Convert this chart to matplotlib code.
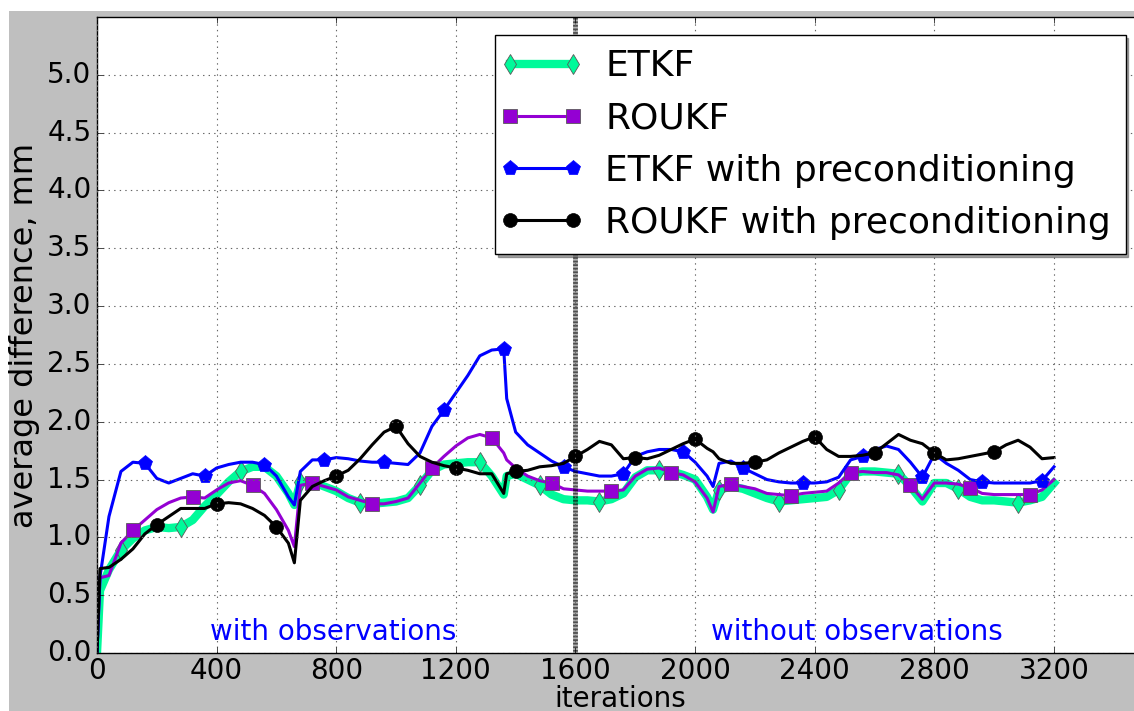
import numpy as np
import matplotlib
matplotlib.use('Agg')
import matplotlib.pyplot as plt
from matplotlib.patches import Rectangle
from matplotlib.lines import Line2D
from matplotlib.legend_handler import HandlerLine2D

# iterations: every 40 plus a few points at the sharp dips
iters = sorted(list(range(0, 3201, 40)) + [10, 660, 1370, 2060])

etkf = [0.00, 0.54, 0.72, 0.89, 0.99, 1.06, 1.09, 1.08, 1.09, 1.15, 1.27,
        1.37, 1.48, 1.57, 1.61, 1.61, 1.53, 1.38, 1.28, 1.48, 1.48, 1.44,
        1.40, 1.34, 1.30, 1.29, 1.30, 1.31, 1.34, 1.45, 1.58, 1.63, 1.64,
        1.65, 1.65, 1.53, 1.37, 1.53, 1.55, 1.50, 1.45, 1.37, 1.33, 1.32,
        1.32, 1.31, 1.33, 1.38, 1.52, 1.58, 1.58, 1.57, 1.54, 1.50, 1.35,
        1.24, 1.41, 1.44, 1.42, 1.38, 1.34, 1.31, 1.32, 1.33, 1.34, 1.35,
        1.41, 1.55, 1.57, 1.57, 1.56, 1.55, 1.44, 1.31, 1.47, 1.47, 1.42,
        1.35, 1.32, 1.32, 1.31, 1.30, 1.32, 1.35, 1.47]

roukf = [0.00, 0.65, 0.67, 0.95, 1.06, 1.15, 1.24, 1.30, 1.34, 1.35, 1.34,
         1.41, 1.47, 1.49, 1.45, 1.38, 1.24, 1.06, 0.92, 1.45, 1.47, 1.44,
         1.41, 1.35, 1.32, 1.29, 1.29, 1.31, 1.34, 1.47, 1.60, 1.70, 1.79,
         1.86, 1.89, 1.86, 1.73, 1.67, 1.60, 1.53, 1.49, 1.47, 1.42, 1.41,
         1.40, 1.40, 1.40, 1.41, 1.53, 1.59, 1.60, 1.56, 1.54, 1.48, 1.34,
         1.22, 1.44, 1.46, 1.44, 1.42, 1.38, 1.37, 1.36, 1.38, 1.39, 1.40,
         1.47, 1.56, 1.57, 1.56, 1.56, 1.54, 1.45, 1.33, 1.47, 1.47, 1.46,
         1.43, 1.38, 1.37, 1.37, 1.37, 1.37, 1.41, 1.50]

etkf_pre = [0.00, 0.66, 1.18, 1.57, 1.65, 1.64, 1.51, 1.47, 1.51, 1.55, 1.53,
            1.60, 1.63, 1.65, 1.65, 1.63, 1.53, 1.35, 1.28, 1.57, 1.67, 1.67,
            1.69, 1.68, 1.66, 1.65, 1.65, 1.64, 1.63, 1.73, 1.96, 2.10, 2.25,
            2.40, 2.57, 2.62, 2.63, 2.20, 1.91, 1.80, 1.73, 1.66, 1.61, 1.57,
            1.55, 1.53, 1.53, 1.55, 1.70, 1.74, 1.76, 1.76, 1.74, 1.65, 1.53,
            1.44, 1.64, 1.66, 1.60, 1.55, 1.50, 1.48, 1.47, 1.47, 1.47, 1.48,
            1.52, 1.67, 1.70, 1.76, 1.79, 1.76, 1.65, 1.52, 1.72, 1.64, 1.58,
            1.50, 1.48, 1.47, 1.47, 1.47, 1.47, 1.49, 1.61]

roukf_pre = [0.00, 0.73, 0.74, 0.81, 0.90, 1.03, 1.11, 1.18, 1.25, 1.25, 1.25,
             1.29, 1.30, 1.29, 1.25, 1.19, 1.09, 0.95, 0.78, 1.32, 1.44, 1.49,
             1.53, 1.58, 1.68, 1.80, 1.91, 1.96, 1.81, 1.70, 1.65, 1.62, 1.60,
             1.58, 1.55, 1.55, 1.38, 1.55, 1.57, 1.58, 1.61, 1.62, 1.64, 1.70,
             1.76, 1.83, 1.80, 1.68, 1.69, 1.68, 1.71, 1.76, 1.81, 1.85, 1.77,
             1.74, 1.68, 1.64, 1.64, 1.65, 1.67, 1.73, 1.78, 1.83, 1.87, 1.76,
             1.70, 1.70, 1.71, 1.73, 1.81, 1.89, 1.84, 1.81, 1.73, 1.67, 1.68,
             1.70, 1.72, 1.74, 1.80, 1.84, 1.78, 1.68, 1.69]

labels = ['ETKF', 'ROUKF', 'ETKF with preconditioning',
          'ROUKF with preconditioning']
marker_start = [80, 120, 160, 200]

plt.style.use('classic')

fig = plt.figure(figsize=(11.34, 7.11), dpi=100, facecolor='white')
fig.add_artist(Rectangle((9 / 1134, 0), 1, 1 - 11 / 711,
                         transform=fig.transFigure, facecolor='0.75',
                         edgecolor='none', zorder=-5))
ax = fig.add_axes([97 / 1134, 58 / 711, 1046.7 / 1134, 636 / 711])

x = np.array(iters)


def marks(start):
    return np.isin(x, np.arange(start, 3200, 200))


ax.plot(x, etkf, color='mediumspringgreen', lw=6, marker='d', ms=10,
        mec='0.35', mew=0.6, markevery=marks(marker_start[0]), label=labels[0])
ax.plot(x, roukf, color='darkviolet', lw=2.2, marker='s', ms=10,
        mec='0.35', mew=0.6, markevery=marks(marker_start[1]), label=labels[1])
ax.plot(x, etkf_pre, color='b', lw=2.2, marker='p', ms=11,
        mec='b', markevery=marks(marker_start[2]), label=labels[2])
ax.plot(x, roukf_pre, color='k', lw=2.2, marker='o', ms=10,
        mec='k', markevery=marks(marker_start[3]), label=labels[3])

ax.axvline(1600, color='k', lw=3.5, dashes=(0.5, 0.5))

ax.text(790, 0.18, 'with observations', color='b', fontsize=20,
        ha='center', va='center')
ax.text(2540, 0.18, 'without observations', color='b', fontsize=20,
        ha='center', va='center')

ax.set_xlim(0, 3500)
ax.set_ylim(0, 5.5)
ax.set_xticks(np.arange(0, 3201, 400))
ax.set_yticks(np.arange(0, 5.01, 0.5))
ax.tick_params(labelsize=20)
ax.tick_params(axis='x', pad=3)
ax.grid(True, color='0.4', linestyle=':', linewidth=0.8)
ax.set_xlabel('iterations', fontsize=20, labelpad=0)
ax.set_ylabel('average difference, mm', fontsize=23)

ax.legend(loc='upper right', fontsize=26, numpoints=2, shadow=True,
          handlelength=1.75, handletextpad=0.9,
          handler_map={Line2D: HandlerLine2D(marker_pad=0)})

fig.savefig('out.png', dpi=100, facecolor=fig.get_facecolor())
